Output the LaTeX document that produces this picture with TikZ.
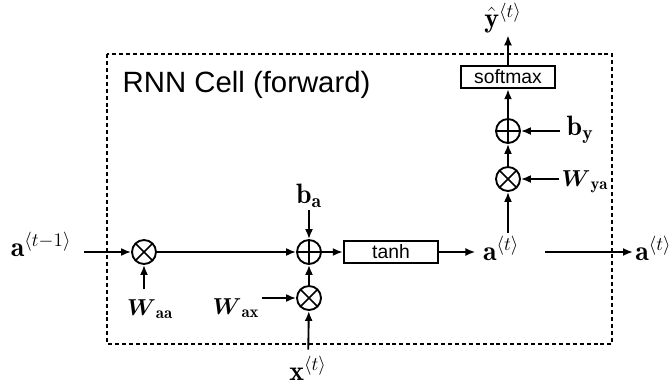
\documentclass[tikz,border=0pt]{standalone}
\usepackage{amsmath,amssymb}
\usepackage{fontspec}
\setsansfont{Liberation Sans}
\usetikzlibrary{positioning,arrows.meta}

\begin{document}
\begin{tikzpicture}[
  x=0.75pt, y=-0.75pt,
  opNode/.style={circle, draw, line width=1.4pt, minimum size=18pt,
                 inner sep=0pt},
  timesNode/.style={opNode, path picture={
      \draw[line width=1.3pt] (path picture bounding box.north west)
        -- (path picture bounding box.south east)
        (path picture bounding box.south west)
        -- (path picture bounding box.north east);}},
  plusNode/.style={opNode, path picture={
      \draw[line width=1.3pt] (path picture bounding box.north)
        -- (path picture bounding box.south)
        (path picture bounding box.west)
        -- (path picture bounding box.east);}},
  funcBox/.style={draw, line width=1.3pt, minimum width=71pt,
                  minimum height=17pt, inner sep=0pt,
                  font=\sffamily\fontsize{14.5}{16}\selectfont},
  vlbl/.style={font=\fontsize{21}{24}\selectfont, inner sep=1.5pt},
  wlbl/.style={font=\fontsize{18}{21}\selectfont, inner sep=1.5pt},
  arr/.style={-{Latex[length=7.5pt,width=6pt]}, line width=1.4pt},
  >=Latex
]
  \useasboundingbox (0,0) rectangle (672,386);

  % Cell frame and title
  \draw[line width=1.1pt, dash pattern=on 3pt off 2.2pt] (107,54) rectangle (612,344);
  \node[anchor=west, font=\sffamily\fontsize{22}{26}\selectfont] (title)
    at (118,85) {RNN Cell (forward)};

  % Hidden state path
  \node[vlbl] (aprev) at (41,244) {$\mathbf{a}^{\langle t-1\rangle}$};
  \node[timesNode] (ox1) at (144,252) {};
  \node[wlbl] (waa) at (150,309) {$\boldsymbol{W}_{\mathbf{aa}}$};
  \node[plusNode] (op1) at (309,252) {};
  \node[vlbl] (ba) at (309,196) {$\mathbf{b}_{\mathbf{a}}$};
  \node[timesNode] (ox2) at (309,298) {};
  \node[wlbl] (wax) at (236,308) {$\boldsymbol{W}_{\mathbf{ax}}$};
  \node[vlbl] (xt) at (308,368) {$\mathbf{x}^{\langle t\rangle}$};
  \node[funcBox] (tanh) at (391,252) {tanh};
  \node[vlbl] (at) at (501,248) {$\mathbf{a}^{\langle t\rangle}$};

  % Output path
  \node[timesNode] (ox3) at (508,179) {};
  \node[wlbl] (wya) at (585,182) {$\boldsymbol{W}_{\mathbf{ya}}$};
  \node[plusNode] (op2) at (508,131) {};
  \node[vlbl] (by) at (580,130) {$\mathbf{b}_{\mathbf{y}}$};
  \node[funcBox] (smax) at (508,77) {softmax};
  \node[vlbl] (yhat) at (503,18) {$\hat{\mathbf{y}}^{\langle t\rangle}$};
  \node[vlbl, anchor=west] (anext) at (633,248) {$\mathbf{a}^{\langle t\rangle}$};

  % Connectors
  \draw[arr, shorten <=8pt] (aprev.east |- ox1) -- (ox1);
  \draw[arr, shorten <=6pt] (ox1 |- waa.north) -- (ox1);
  \draw[arr] (ox1) -- (op1);
  \draw[arr] (ba) -- (op1);
  \draw[arr] (ox2) -- (op1);
  \draw[arr] (wax.east |- ox2) -- (ox2);
  \draw[arr, shorten <=3pt] (xt) -- (ox2);
  \draw[arr] (op1) -- (tanh);
  \draw[arr, shorten >=4pt] (tanh) -- (tanh -| at.west);
  \draw[arr] (ox3 |- at.north) -- (ox3);
  \draw[arr] (wya.west |- ox3) -- (ox3);
  \draw[arr] (ox3) -- (op2);
  \draw[arr, shorten <=3pt] (by.west |- op2) -- (op2);
  \draw[arr] (op2) -- (smax);
  \draw[arr] (smax) -- (smax |- yhat.south);
  \draw[arr, shorten <=18pt] (at.east |- ox1) -- (anext.west |- ox1);
\end{tikzpicture}
\end{document}
